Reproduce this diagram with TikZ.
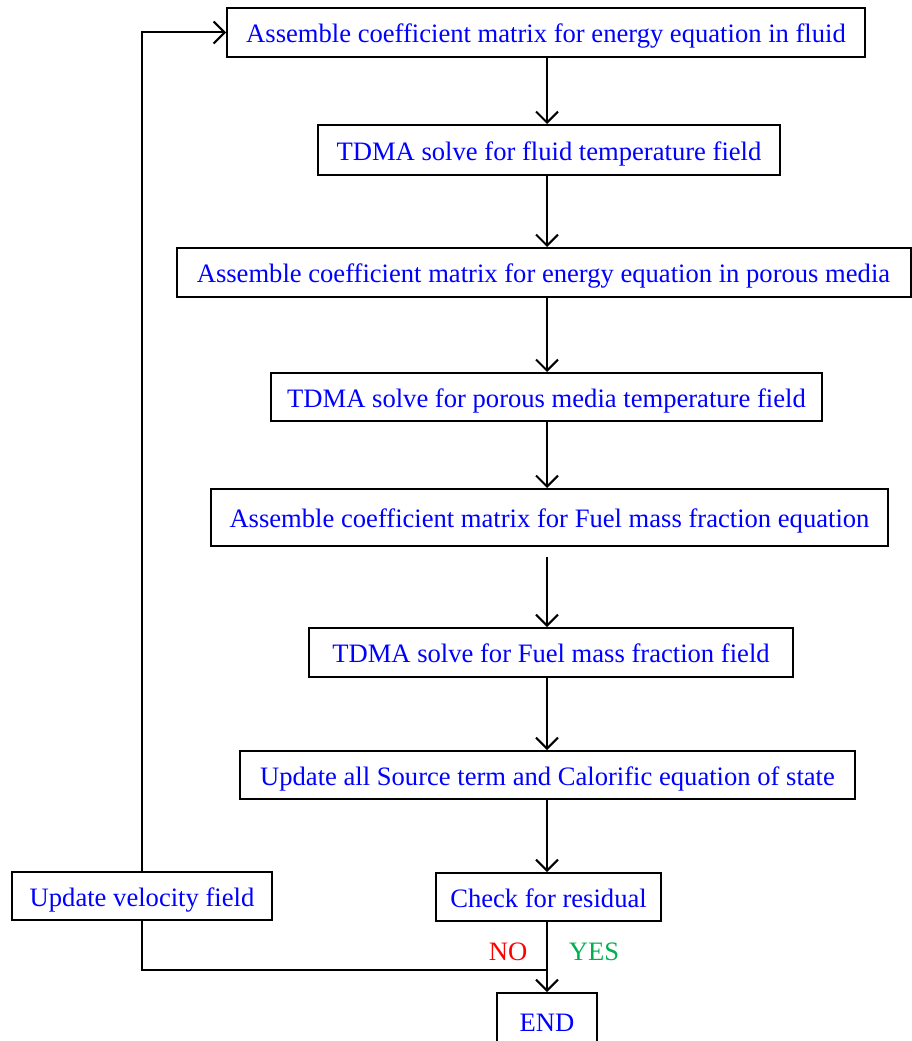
\documentclass[tikz,border=0pt]{standalone}
\usepackage{fontspec}
\setmainfont{Liberation Serif}
\usetikzlibrary{arrows.meta}
\definecolor{txtblue}{RGB}{0,0,255}
\definecolor{nored}{RGB}{255,0,0}
\definecolor{yesgreen}{RGB}{0,176,80}
\begin{document}
\begin{tikzpicture}[x=1pt,y=-1pt,
  box/.style={draw=black, line width=2pt, fill=white, text=txtblue,
    font=\fontsize{26.6}{30}\selectfont, inner sep=0pt, anchor=center,
    text height=26pt, text depth=6pt},
  conn/.style={draw=black, line width=2pt},
  arr/.style={conn, -{Straight Barb[length=11pt,width=22pt,line width=2pt]}},
  lbl/.style={font=\fontsize{26.6}{30}\selectfont, inner sep=0pt}]
\useasboundingbox (0,0) rectangle (911,1041);
\coordinate (spine) at (547,0);
\node[box, minimum width=638pt, minimum height=49pt] (b1) at (546,32.5) {Assemble coefficient matrix for energy equation in fluid};
\node[box, minimum width=462pt, minimum height=50pt] (b2) at (549,150) {TDMA solve for fluid temperature field};
\node[box, minimum width=734pt, minimum height=49pt] (b3) at (543.5,272.5) {Assemble coefficient matrix for energy equation in porous media};
\node[box, minimum width=551pt, minimum height=48pt] (b4) at (546.5,397) {TDMA solve for porous media temperature field};
\node[box, minimum width=677pt, minimum height=57pt] (b5) at (549.5,517.5) {Assemble coefficient matrix for Fuel mass fraction equation};
\node[box, minimum width=484pt, minimum height=49pt] (b6) at (551,652.5) {TDMA solve for Fuel mass fraction field};
\node[box, minimum width=615pt, minimum height=48pt] (b7) at (547.5,775) {Update all Source term and Calorific equation of state};
\node[box, minimum width=225pt, minimum height=48pt] (b8) at (548.5,897) {Check for residual};
\node[box, minimum width=260pt, minimum height=48pt] (vel) at (142,896) {Update velocity field};
\node[box, minimum width=100pt, minimum height=57pt] (endb) at (547,1021.5) {END};
\coordinate (join) at (547,970);
\node[lbl, text=nored] (no) at (508,952) {NO};
\node[lbl, text=yesgreen] (yes) at (594,952) {YES};
\draw[arr] (b1.south -| spine) -- (b2.north -| spine);
\draw[arr] (b2.south -| spine) -- (b3.north -| spine);
\draw[arr] (b3.south -| spine) -- (b4.north -| spine);
\draw[arr] (b4.south -| spine) -- (b5.north -| spine);
\draw[arr] (b5.south -| spine) ++(0,10) -- (b6.north -| spine);
\draw[arr] (b6.south -| spine) -- (b7.north -| spine);
\draw[arr] (b7.south -| spine) -- (b8.north -| spine);
\draw[arr] (b8.south -| spine) -- (endb.north);
\draw[conn] (join) -| (vel.south);
\draw[arr] (vel.north) |- (b1.west);
\end{tikzpicture}
\end{document}
